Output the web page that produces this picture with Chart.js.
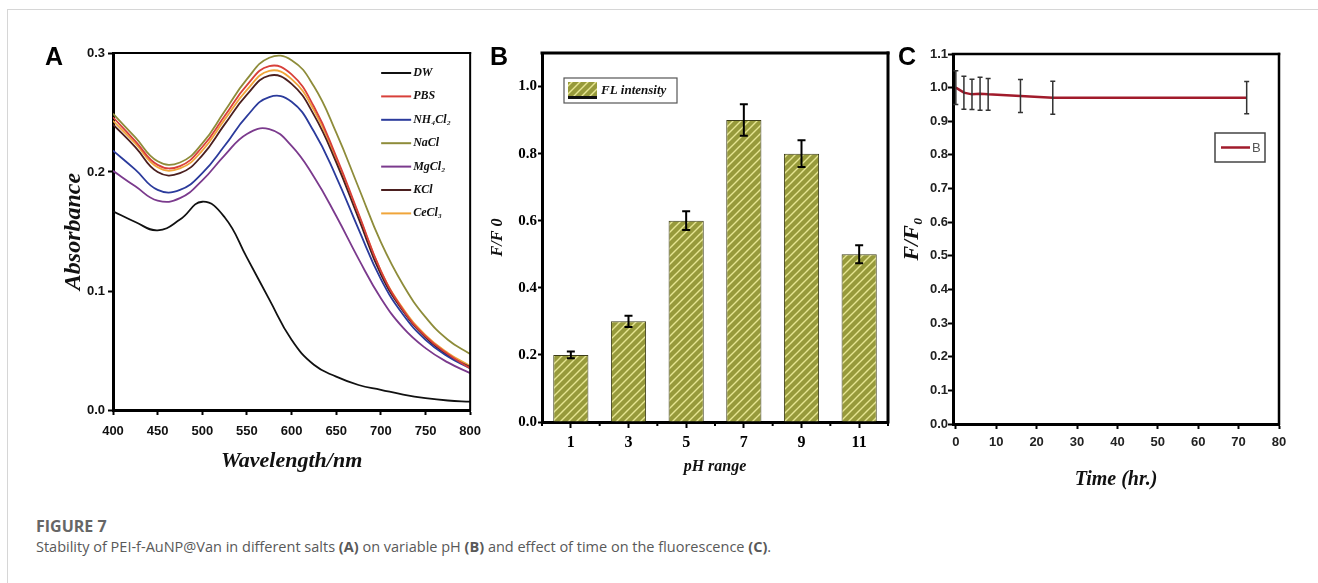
<!DOCTYPE html>
<html>
<head>
<meta charset="utf-8">
<script src="https://cdn.jsdelivr.net/npm/chart.js@4.4.1/dist/chart.umd.min.js"></script>
<style>
  html, body { margin: 0; padding: 0; background: #fff; width: 1318px; height: 583px; overflow: hidden; }
  #frame { position: absolute; left: 7px; top: 9px; width: 1400px; height: 700px;
           border-left: 1px solid #d6d6d6; border-top: 1px solid #d6d6d6; }
  canvas { position: absolute; }
  .panel { position: absolute; font: bold 25px "Liberation Sans", Arial, sans-serif; line-height: 25px; color: #000; z-index: 2; }
  #cap1 { position: absolute; left: 36px; top: 516px; font: bold 16px "Open Sans", sans-serif; line-height: 20px; color: #666; }
  #cap2 { position: absolute; left: 36px; top: 537px; font: 14.5px "Open Sans", sans-serif; line-height: 20px; color: #595959; }
</style>
</head>
<body>
<div id="frame"></div>
<div class="panel" style="left:45px;top:44px">A</div>
<div class="panel" style="left:490px;top:44px">B</div>
<div class="panel" style="left:898px;top:44px">C</div>
<canvas id="chartA" width="470" height="449" style="left:20px;top:30px;width:470px;height:449px"></canvas>
<canvas id="chartB" width="420" height="450" style="left:480px;top:30px;width:420px;height:450px"></canvas>
<canvas id="chartC" width="410" height="466" style="left:890px;top:30px;width:410px;height:466px"></canvas>
<div id="cap1">FIGURE 7</div>
<div id="cap2">Stability of PEI-f-AuNP@Van in different salts <b>(A)</b> on variable pH <b>(B)</b> and effect of time on the fluorescence <b>(C)</b>.</div>

<script>
// ---- panel A: absorbance spectra in different salts ----
const wavelengths = [400, 425, 450, 475, 500, 525, 550, 575, 600, 625, 650, 675, 700, 725, 750, 775, 800];
const absDW    = [0.167, 0.158, 0.151, 0.160, 0.175, 0.162, 0.128, 0.093, 0.059, 0.038, 0.028, 0.021, 0.017, 0.013, 0.010, 0.008, 0.007];
const absPBS   = [0.246, 0.226, 0.206, 0.205, 0.221, 0.247, 0.273, 0.289, 0.282, 0.255, 0.213, 0.165, 0.117, 0.084, 0.062, 0.047, 0.035];
const absNH4   = [0.218, 0.202, 0.185, 0.185, 0.199, 0.222, 0.247, 0.263, 0.259, 0.234, 0.196, 0.152, 0.110, 0.080, 0.059, 0.045, 0.035];
const absNaCl  = [0.249, 0.229, 0.209, 0.208, 0.224, 0.251, 0.278, 0.296, 0.294, 0.272, 0.233, 0.187, 0.141, 0.105, 0.078, 0.059, 0.047];
const absMgCl2 = [0.201, 0.188, 0.176, 0.178, 0.193, 0.214, 0.232, 0.236, 0.222, 0.196, 0.163, 0.127, 0.094, 0.069, 0.052, 0.040, 0.031];
const absKCl   = [0.240, 0.221, 0.200, 0.199, 0.214, 0.240, 0.265, 0.281, 0.274, 0.248, 0.208, 0.161, 0.114, 0.083, 0.061, 0.046, 0.036];
const absCeCl3 = [0.243, 0.224, 0.204, 0.203, 0.218, 0.244, 0.269, 0.285, 0.278, 0.252, 0.211, 0.164, 0.117, 0.085, 0.063, 0.048, 0.037];
const saltNames = ['DW', 'PBS', 'NH₄Cl₂', 'NaCl', 'MgCl₂', 'KCl', 'CeCl₃'];
const saltSeries = [absDW, absPBS, absNH4, absNaCl, absMgCl2, absKCl, absCeCl3];
const saltColors = ['#111111', '#d8403a', '#2b3b9c', '#8e8c3a', '#7b3a8d', '#4b1f1f', '#f0a53a'];
const ticksA_x = [400, 450, 500, 550, 600, 650, 700, 750, 800];
const ticksA_y = [0, 0.1, 0.2, 0.3];

// ---- panel B: F/F0 vs pH ----
const phLabels = ['1', '3', '5', '7', '9', '11'];
const flIntensity = [0.2, 0.3, 0.6, 0.9, 0.8, 0.5];
const flError = [0.01, 0.017, 0.028, 0.047, 0.04, 0.027];
const ticksB_y = [0, 0.2, 0.4, 0.6, 0.8, 1.0];

// ---- panel C: F/F0 vs time ----
const timeHr = [0, 2, 4, 6, 8, 16, 24, 72];
const ratioC = [1.0, 0.985, 0.98, 0.982, 0.98, 0.975, 0.97, 0.97];
const errorC = [0.05, 0.049, 0.045, 0.049, 0.047, 0.049, 0.049, 0.048];
const ticksC_x = [0, 10, 20, 30, 40, 50, 60, 70, 80];
const ticksC_y = [0, 0.1, 0.2, 0.3, 0.4, 0.5, 0.6, 0.7, 0.8, 0.9, 1.0, 1.1];

const setTicks = list => scale => { scale.ticks = list.map(v => ({ value: v })); };

// top/right frame lines around the plot area
const frame = {
  id: 'frame',
  afterDraw(chart, args, o) {
    const { left, right, top, bottom } = chart.chartArea;
    const ctx = chart.ctx;
    ctx.save();
    ctx.strokeStyle = '#000';
    ctx.lineCap = 'square';
    ctx.lineWidth = o.top;
    ctx.beginPath(); ctx.moveTo(left, top); ctx.lineTo(right, top); ctx.stroke();
    ctx.lineWidth = o.right;
    ctx.beginPath(); ctx.moveTo(right, top); ctx.lineTo(right, bottom); ctx.stroke();
    ctx.restore();
  }
};

const errorBars = {
  id: 'errorBars',
  afterDatasetsDraw(chart, args, o) {
    if (!o.errors) return;
    const ctx = chart.ctx, ys = chart.scales.y;
    const ds = chart.data.datasets[0];
    ctx.save();
    ctx.strokeStyle = o.color;
    ctx.lineWidth = o.lineWidth;
    chart.getDatasetMeta(0).data.forEach((el, i) => {
      const raw = ds.data[i];
      const v = typeof raw === 'object' ? raw.y : raw;
      const yt = ys.getPixelForValue(v + o.errors[i]);
      const yb = ys.getPixelForValue(v - o.errors[i]);
      const x = el.x, c = o.cap;
      ctx.beginPath();
      ctx.moveTo(x, yt); ctx.lineTo(x, yb);
      ctx.moveTo(x - c, yt); ctx.lineTo(x + c, yt);
      ctx.moveTo(x - c, yb); ctx.lineTo(x + c, yb);
      ctx.stroke();
    });
    ctx.restore();
  }
};

function hatchPattern() {
  const c = document.createElement('canvas');
  c.width = 8; c.height = 8;
  const g = c.getContext('2d');
  g.fillStyle = '#979a3b';
  g.fillRect(0, 0, 8, 8);
  g.strokeStyle = '#e6e592';
  g.lineWidth = 1.4;
  g.beginPath();
  g.moveTo(-1, 9); g.lineTo(9, -1);
  g.moveTo(-1, 1); g.lineTo(1, -1);
  g.moveTo(7, 9); g.lineTo(9, 7);
  g.stroke();
  return g.createPattern(c, 'repeat');
}
const hatch = hatchPattern();

const axisGrid = (len) => ({ display: true, drawOnChartArea: false, drawTicks: true, tickLength: len, tickWidth: 2, color: '#000' });
const axisBorder = { display: true, color: '#000', width: 3 };

// ---------- chart A ----------
const legendA = {
  id: 'legendA',
  afterDraw(chart) {
    const { right, top } = chart.chartArea;
    const ctx = chart.ctx;
    ctx.save();
    ctx.font = 'italic bold 12px "Liberation Serif", serif';
    ctx.textBaseline = 'middle';
    chart.data.datasets.forEach((ds, i) => {
      const y = top + 20 + i * 23.4;
      const x = right - 89;
      ctx.strokeStyle = ds.borderColor;
      ctx.lineWidth = 2;
      ctx.beginPath(); ctx.moveTo(x, y); ctx.lineTo(x + 30, y); ctx.stroke();
      ctx.fillStyle = '#111';
      ctx.fillText(ds.label, x + 32, y);
    });
    ctx.restore();
  }
};

new Chart(document.getElementById('chartA').getContext('2d'), {
  type: 'line',
  data: {
    datasets: saltNames.map((name, i) => ({
      label: name,
      data: wavelengths.map((w, j) => ({ x: w, y: saltSeries[i][j] })),
      borderColor: saltColors[i],
      borderWidth: 1.8,
      pointRadius: 0,
      tension: 0.45,
      fill: false
    }))
  },
  options: {
    responsive: false,
    animation: false,
    devicePixelRatio: 1,
    layout: { padding: { left: 35, top: 23, right: 16, bottom: 0 } },
    plugins: { legend: { display: false }, tooltip: { enabled: false }, frame: { top: 2, right: 2 } },
    scales: {
      x: {
        type: 'linear', min: 400, max: 800,
        afterBuildTicks: setTicks(ticksA_x),
        afterFit: s => { s.height = 69; },
        grid: axisGrid(5), border: axisBorder,
        ticks: { padding: 9, color: '#111', font: { family: 'Liberation Sans', weight: 'bold', size: 13 } },
        title: { display: true, text: 'Wavelength/nm', color: '#111', font: { family: 'Liberation Serif', style: 'italic', weight: 'bold', size: 22 } }
      },
      y: {
        min: 0, max: 0.3,
        afterBuildTicks: setTicks(ticksA_y),
        afterFit: s => { s.width = 58; },
        grid: axisGrid(5), border: axisBorder,
        ticks: { padding: 3, color: '#111', font: { family: 'Liberation Sans', weight: 'bold', size: 13 }, callback: v => v.toFixed(1) },
        title: { display: true, text: 'Absorbance', color: '#111', font: { family: 'Liberation Serif', style: 'italic', weight: 'bold', size: 24 } }
      }
    }
  },
  plugins: [frame, legendA]
});

// ---------- chart B ----------
const ticksBetween = {
  id: 'ticksBetween',
  afterDraw(chart) {
    const xs = chart.scales.x;
    const n = chart.data.labels.length;
    const ctx = chart.ctx;
    ctx.save();
    ctx.strokeStyle = '#000';
    ctx.lineWidth = 2;
    for (let i = 0; i <= n; i++) {
      const x = xs.left + i * (xs.right - xs.left) / n;
      ctx.beginPath(); ctx.moveTo(x, xs.top); ctx.lineTo(x, xs.top + 4); ctx.stroke();
    }
    ctx.restore();
  }
};
const legendB = {
  id: 'legendB',
  afterDraw(chart) {
    const { left, top } = chart.chartArea;
    const ctx = chart.ctx;
    const bx = left + 22, by = top + 25;
    ctx.save();
    ctx.fillStyle = '#fff';
    ctx.fillRect(bx, by, 113, 25);
    ctx.strokeStyle = '#555';
    ctx.lineWidth = 1.2;
    ctx.strokeRect(bx, by, 113, 25);
    ctx.fillStyle = hatch;
    ctx.fillRect(bx + 4, by + 4, 29, 15);
    ctx.fillStyle = '#111';
    ctx.fillRect(bx + 4, by + 18, 29, 3);
    ctx.font = 'italic bold 13px "Liberation Serif", serif';
    ctx.textBaseline = 'middle';
    ctx.fillText(chart.data.datasets[0].label, bx + 37, by + 12.5);
    ctx.restore();
  }
};

new Chart(document.getElementById('chartB').getContext('2d'), {
  type: 'bar',
  data: {
    labels: phLabels,
    datasets: [{
      label: 'FL intensity',
      data: flIntensity,
      backgroundColor: hatch,
      borderColor: '#3d3d1a',
      borderWidth: 1,
      barPercentage: 0.61,
      categoryPercentage: 1
    }]
  },
  options: {
    responsive: false,
    animation: false,
    devicePixelRatio: 1,
    layout: { padding: { left: 4, top: 23, right: 12, bottom: 0 } },
    plugins: {
      legend: { display: false }, tooltip: { enabled: false },
      frame: { top: 3, right: 3 },
      errorBars: { errors: flError, color: '#000', lineWidth: 2, cap: 4 }
    },
    scales: {
      x: {
        offset: true,
        afterFit: s => { s.height = 58; },
        grid: Object.assign(axisGrid(6), { offset: false }), border: axisBorder,
        ticks: { padding: 5, color: '#000', font: { family: 'Liberation Serif', weight: 'bold', size: 16 } },
        title: { display: true, text: 'pH range', color: '#111', font: { family: 'Liberation Serif', style: 'italic', weight: 'bold', size: 16 } }
      },
      y: {
        min: 0, max: 1.1,
        afterBuildTicks: setTicks(ticksB_y),
        afterFit: s => { s.width = 58; },
        grid: axisGrid(4), border: axisBorder,
        ticks: { padding: 1, color: '#000', font: { family: 'Liberation Serif', weight: 'bold', size: 15 }, callback: v => v.toFixed(1) },
        title: { display: true, text: 'F/F 0', color: '#111', font: { family: 'Liberation Serif', style: 'italic', weight: 'bold', size: 16 } }
      }
    }
  },
  plugins: [frame, errorBars, ticksBetween, legendB]
});

// ---------- chart C ----------
const legendC = {
  id: 'legendC',
  afterDraw(chart) {
    const { right, top } = chart.chartArea;
    const ctx = chart.ctx;
    const ds = chart.data.datasets[0];
    const bx = right - 64, by = top + 79;
    ctx.save();
    ctx.strokeStyle = '#444';
    ctx.lineWidth = 1.5;
    ctx.strokeRect(bx, by, 50, 29);
    ctx.strokeStyle = ds.borderColor;
    ctx.lineWidth = 2.5;
    ctx.beginPath(); ctx.moveTo(bx + 6, by + 14.5); ctx.lineTo(bx + 35, by + 14.5); ctx.stroke();
    ctx.fillStyle = '#555';
    ctx.font = '13px "Liberation Sans", sans-serif';
    ctx.textBaseline = 'middle';
    ctx.fillText(ds.label, bx + 37, by + 15);
    ctx.restore();
  }
};

new Chart(document.getElementById('chartC').getContext('2d'), {
  type: 'line',
  data: {
    datasets: [{
      label: 'B',
      data: timeHr.map((t, i) => ({ x: t, y: ratioC[i] })),
      borderColor: '#a11b2b',
      borderWidth: 2.5,
      pointRadius: 0,
      tension: 0,
      fill: false
    }]
  },
  options: {
    responsive: false,
    animation: false,
    devicePixelRatio: 1,
    layout: { padding: { left: 5, top: 24, right: 21, bottom: 0 } },
    plugins: {
      legend: { display: false }, tooltip: { enabled: false },
      frame: { top: 2.5, right: 2.5 },
      errorBars: { errors: errorC, color: '#333', lineWidth: 1.5, cap: 2.5 }
    },
    scales: {
      x: {
        type: 'linear', min: -0.7, max: 80,
        afterBuildTicks: setTicks(ticksC_x),
        afterFit: s => { s.height = 72; },
        grid: axisGrid(5), border: axisBorder,
        ticks: { padding: 6, color: '#222', font: { family: 'Liberation Sans', weight: 'bold', size: 13 } },
        title: { display: true, text: 'Time (hr.)', color: '#111', font: { family: 'Liberation Serif', style: 'italic', weight: 'bold', size: 20 } }
      },
      y: {
        min: 0, max: 1.1,
        afterBuildTicks: setTicks(ticksC_y),
        afterFit: s => { s.width = 58; },
        grid: axisGrid(5), border: axisBorder,
        ticks: { padding: 0, color: '#222', font: { family: 'Liberation Sans', weight: 'bold', size: 13 }, callback: v => v.toFixed(1) },
        title: { display: true, text: 'F/F₀', color: '#111', font: { family: 'Liberation Serif', style: 'italic', weight: 'bold', size: 22 } }
      }
    }
  },
  plugins: [frame, errorBars, legendC]
});
</script>
</body>
</html>
